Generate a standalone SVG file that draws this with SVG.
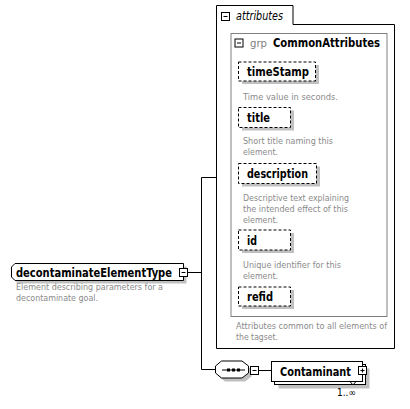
<svg xmlns="http://www.w3.org/2000/svg" width="410" height="409" viewBox="0 0 410 409">
<style>
text{font-family:"DejaVu Sans Condensed","DejaVu Sans","Liberation Sans",sans-serif}
.lbl{font-size:11.5px;font-weight:bold;fill:#000}
.doc{font-size:9.5px;fill:#8a8a8a}
.shadow{fill:#c0c0c0;stroke:none}
.box{fill:#fff;stroke:#000;stroke-width:1}
.attr{fill:#fff;stroke:#000;stroke-width:1;stroke-dasharray:3,2}
.icon{fill:#fff;stroke:#000;stroke-width:1}
.conn{fill:none;stroke:#000;stroke-width:1}
</style>
<defs>
<g id="minus"><rect class="icon" x="0" y="0" width="8" height="8"/><line class="conn" x1="2" y1="4" x2="6" y2="4"/></g>
<g id="plus"><rect class="icon" x="0" y="0" width="8" height="8"/><line class="conn" x1="2" y1="4" x2="6" y2="4"/><line class="conn" x1="4" y1="2" x2="4" y2="6"/></g>
</defs>
<rect width="410" height="409" fill="#fff"/>

<g id="connectors">
<path class="conn" d="M187.5,272.5 H201.5 M201.5,177.5 V369.5 M201.5,177.5 H216 M201.5,369.5 H215.5 M258.5,370.5 H271.5"/>
</g>

<g id="root">
<path class="shadow" d="M18,266.5 H186.5 V283.5 H18 L14,279.5 V270.5 Z"/>
<path class="box" d="M15,263.5 H183.5 V280.5 H15 L11.5,277 V267 Z"/>
<text class="lbl" x="16" y="277" textLength="156" lengthAdjust="spacingAndGlyphs">decontaminateElementType</text>
<use href="#minus" x="179.5" y="268.5"/>
<text class="doc" x="16" y="290" textLength="147" lengthAdjust="spacingAndGlyphs">Element describing parameters for a</text>
<text class="doc" x="16" y="301" textLength="82" lengthAdjust="spacingAndGlyphs">decontaminate goal.</text>
</g>

<g id="attributes">
<path class="box" d="M216.5,348.5 V5.5 H293 V24.5 H394.5 V348.5 Z"/>
<use href="#minus" x="221.5" y="12.5"/>
<text x="236" y="20" style="font-size:11.5px;font-style:italic;fill:#000" textLength="47" lengthAdjust="spacingAndGlyphs">attributes</text>
<text class="doc" x="236" y="329" textLength="151" lengthAdjust="spacingAndGlyphs">Attributes common to all elements of</text>
<text class="doc" x="236" y="340" textLength="42" lengthAdjust="spacingAndGlyphs">the tagset.</text>
</g>

<g id="CommonAttributes">
<rect x="231" y="33.5" width="156" height="283" fill="#fff" stroke="#808080" stroke-width="1"/>
<use href="#minus" x="235" y="39"/>
<text x="250" y="47" style="font-size:11px;fill:#808080" textLength="17" lengthAdjust="spacingAndGlyphs">grp</text>
<text class="lbl" x="273" y="47" textLength="107" lengthAdjust="spacingAndGlyphs">CommonAttributes</text>
</g>

<g id="timeStamp">
<rect class="shadow" x="242" y="65" width="77" height="19"/>
<rect class="attr" x="238.5" y="62" width="77" height="19"/>
<text class="lbl" x="247" y="76" textLength="62" lengthAdjust="spacingAndGlyphs">timeStamp</text>
<text class="doc" x="243" y="99.5" textLength="95" lengthAdjust="spacingAndGlyphs">Time value in seconds.</text>
</g>

<g id="title">
<rect class="shadow" x="242" y="110.5" width="52" height="20"/>
<rect class="attr" x="238.5" y="107.5" width="52" height="20"/>
<text class="lbl" x="247" y="122" textLength="23" lengthAdjust="spacingAndGlyphs">title</text>
<text class="doc" x="243" y="143.5" textLength="90" lengthAdjust="spacingAndGlyphs">Short title naming this</text>
<text class="doc" x="243" y="154.5" textLength="35" lengthAdjust="spacingAndGlyphs">element.</text>
</g>

<g id="description">
<rect class="shadow" x="242" y="166.5" width="78" height="20"/>
<rect class="attr" x="238.5" y="163.5" width="78" height="20"/>
<text class="lbl" x="247" y="178" textLength="61" lengthAdjust="spacingAndGlyphs">description</text>
<text class="doc" x="243" y="200.5" textLength="106" lengthAdjust="spacingAndGlyphs">Descriptive text explaining</text>
<text class="doc" x="243" y="211.5" textLength="105" lengthAdjust="spacingAndGlyphs">the intended effect of this</text>
<text class="doc" x="243" y="222.5" textLength="35" lengthAdjust="spacingAndGlyphs">element.</text>
</g>

<g id="id">
<rect class="shadow" x="242" y="233" width="52" height="20"/>
<rect class="attr" x="238.5" y="230" width="52" height="20"/>
<text class="lbl" x="247" y="245" textLength="10" lengthAdjust="spacingAndGlyphs">id</text>
<text class="doc" x="243" y="267.5" textLength="98" lengthAdjust="spacingAndGlyphs">Unique identifier for this</text>
<text class="doc" x="243" y="278.5" textLength="35" lengthAdjust="spacingAndGlyphs">element.</text>
</g>

<g id="refid">
<rect class="shadow" x="242" y="290" width="52" height="19"/>
<rect class="attr" x="238.5" y="287" width="52" height="19"/>
<text class="lbl" x="247" y="301" textLength="26" lengthAdjust="spacingAndGlyphs">refid</text>
</g>

<g id="sequence">
<polygon class="shadow" points="225,364.5 245,364.5 251.5,369.5 251.5,376.5 245,381.5 225,381.5 218.5,376.5 218.5,369.5"/>
<polygon class="box" points="221.5,361 242,361 248.5,366 248.5,373 242,378 221.5,378 215.5,373 215.5,366"/>
<line class="conn" x1="222" y1="370" x2="245" y2="370"/>
<rect x="227" y="368.5" width="3" height="3" fill="#000"/>
<rect x="232" y="368.5" width="3" height="3" fill="#000"/>
<rect x="237" y="368.5" width="3" height="3" fill="#000"/>
<use href="#minus" x="250.5" y="366.5"/>
</g>

<g id="Contaminant">
<rect class="shadow" x="278.5" y="368.5" width="91" height="20"/>
<rect class="box" x="274.5" y="364.5" width="91" height="20"/>
<rect class="box" x="271.5" y="361.5" width="91" height="20"/>
<text class="lbl" x="280" y="376" textLength="71" lengthAdjust="spacingAndGlyphs">Contaminant</text>
<use href="#plus" x="358.5" y="366.5"/>
<polygon class="box" points="350,381.5 356,381.5 353,385"/>
<text x="337" y="396" style="font-size:10px;fill:#000">1..∞</text>
</g>
</svg>
